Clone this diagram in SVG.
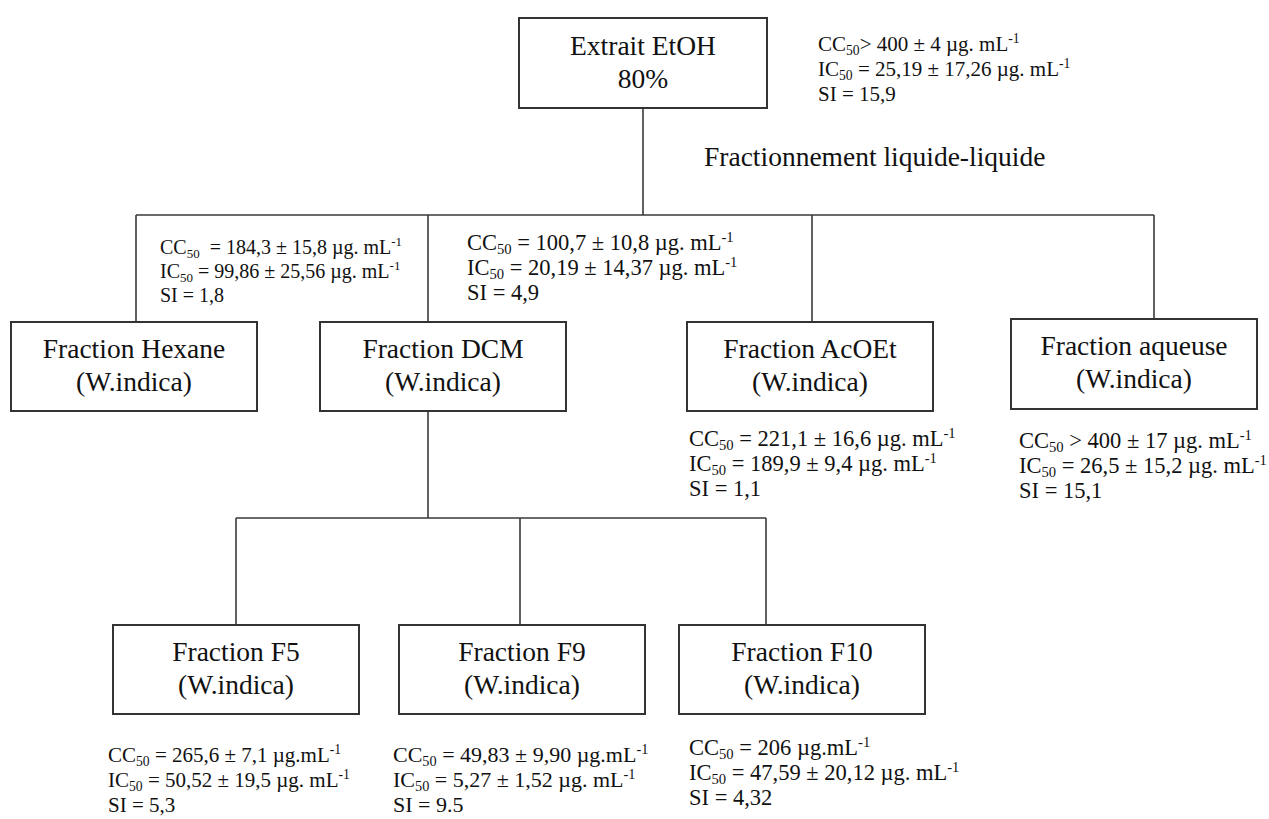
<svg xmlns="http://www.w3.org/2000/svg" width="1269" height="819" viewBox="0 0 1269 819">
<style>
text{font-family:"Liberation Serif","Times New Roman",serif;fill:#111;white-space:pre}
.t{font-size:27.5px;text-anchor:middle}
.l{font-size:22.5px}
.a{font-size:20px}
.b{font-size:21px}
.d{font-size:22px}
.s{font-size:0.65em}
.box{fill:#fff;stroke:#333;stroke-width:2}
.c{fill:none;stroke:#3a3a3a;stroke-width:1.6}
</style>
<rect width="1269" height="819" fill="#fff"/>
<g id="connectors" class="c">
<path d="M643 108V215M136 215H1154M136 215V322M428 215V322M812 215V322M1154 215V319"/>
<path d="M428 411V518M236 518H766M236 518V625M520 518V625M766 518V625"/>
</g>
<text x="704" y="166" style="font-size:27.5px">Fractionnement liquide-liquide</text>
<g id="extrait">
<rect class="box" x="519" y="18" width="248" height="90"/>
<text class="t" x="643" y="55">Extrait EtOH</text>
<text class="t" x="643" y="88">80%</text>
<text class="b" x="818" y="51">CC<tspan class="s" dy="4">50</tspan><tspan dy="-4">&gt; 400 ± 4 µg. mL</tspan><tspan class="s" dy="-8">-1</tspan></text>
<text class="b" x="818" y="76">IC<tspan class="s" dy="4">50</tspan><tspan dy="-4"> = 25,19 ± 17,26 µg. mL</tspan><tspan class="s" dy="-8">-1</tspan></text>
<text class="b" x="818" y="101">SI = 15,9</text>
</g>
<g id="hexane">
<rect class="box" x="11" y="322" width="246" height="89"/>
<text class="t" x="134" y="358">Fraction Hexane</text>
<text class="t" x="134" y="391">(W.indica)</text>
<text class="a" x="160" y="254">CC<tspan class="s" dy="4">50</tspan><tspan dy="-4">  = 184,3 ± 15,8 µg. mL</tspan><tspan class="s" dy="-8">-1</tspan></text>
<text class="a" x="160" y="278">IC<tspan class="s" dy="4">50</tspan><tspan dy="-4"> = 99,86 ± 25,56 µg. mL</tspan><tspan class="s" dy="-8">-1</tspan></text>
<text class="a" x="160" y="302">SI = 1,8</text>
</g>
<g id="dcm">
<rect class="box" x="320" y="322" width="246" height="89"/>
<text class="t" x="443" y="358">Fraction DCM</text>
<text class="t" x="443" y="391">(W.indica)</text>
<text class="l" x="467" y="250">CC<tspan class="s" dy="4">50</tspan><tspan dy="-4"> = 100,7 ± 10,8 µg. mL</tspan><tspan class="s" dy="-8">-1</tspan></text>
<text class="l" x="467" y="275">IC<tspan class="s" dy="4">50</tspan><tspan dy="-4"> = 20,19 ± 14,37 µg. mL</tspan><tspan class="s" dy="-8">-1</tspan></text>
<text class="l" x="467" y="300">SI = 4,9</text>
</g>
<g id="acoet">
<rect class="box" x="687" y="322" width="246" height="89"/>
<text class="t" x="810" y="358">Fraction AcOEt</text>
<text class="t" x="810" y="391">(W.indica)</text>
<text class="l" x="689" y="446">CC<tspan class="s" dy="4">50</tspan><tspan dy="-4"> = 221,1 ± 16,6 µg. mL</tspan><tspan class="s" dy="-8">-1</tspan></text>
<text class="l" x="689" y="471">IC<tspan class="s" dy="4">50</tspan><tspan dy="-4"> = 189,9 ± 9,4 µg. mL</tspan><tspan class="s" dy="-8">-1</tspan></text>
<text class="l" x="689" y="496">SI = 1,1</text>
</g>
<g id="aqueuse">
<rect class="box" x="1011" y="319" width="246" height="90"/>
<text class="t" x="1134" y="355">Fraction aqueuse</text>
<text class="t" x="1134" y="388">(W.indica)</text>
<text class="l" x="1019" y="448">CC<tspan class="s" dy="4">50</tspan><tspan dy="-4"> &gt; 400 ± 17 µg. mL</tspan><tspan class="s" dy="-8">-1</tspan></text>
<text class="l" x="1019" y="473">IC<tspan class="s" dy="4">50</tspan><tspan dy="-4"> = 26,5 ± 15,2 µg. mL</tspan><tspan class="s" dy="-8">-1</tspan></text>
<text class="l" x="1019" y="498">SI = 15,1</text>
</g>
<g id="f5">
<rect class="box" x="113" y="625" width="246" height="89"/>
<text class="t" x="236" y="661">Fraction F5</text>
<text class="t" x="236" y="694">(W.indica)</text>
<text class="b" x="108" y="762">CC<tspan class="s" dy="4">50</tspan><tspan dy="-4"> = 265,6 ± 7,1 µg.mL</tspan><tspan class="s" dy="-8">-1</tspan></text>
<text class="b" x="108" y="787">IC<tspan class="s" dy="4">50</tspan><tspan dy="-4"> = 50,52 ± 19,5 µg. mL</tspan><tspan class="s" dy="-8">-1</tspan></text>
<text class="b" x="108" y="812">SI = 5,3</text>
</g>
<g id="f9">
<rect class="box" x="399" y="625" width="246" height="89"/>
<text class="t" x="522" y="661">Fraction F9</text>
<text class="t" x="522" y="694">(W.indica)</text>
<text class="d" x="393" y="762">CC<tspan class="s" dy="4">50</tspan><tspan dy="-4"> = 49,83 ± 9,90 µg.mL</tspan><tspan class="s" dy="-8">-1</tspan></text>
<text class="d" x="393" y="787">IC<tspan class="s" dy="4">50</tspan><tspan dy="-4"> = 5,27 ± 1,52 µg. mL</tspan><tspan class="s" dy="-8">-1</tspan></text>
<text class="d" x="393" y="812">SI = 9.5</text>
</g>
<g id="f10">
<rect class="box" x="679" y="625" width="246" height="89"/>
<text class="t" x="802" y="661">Fraction F10</text>
<text class="t" x="802" y="694">(W.indica)</text>
<text class="l" x="689" y="755">CC<tspan class="s" dy="4">50</tspan><tspan dy="-4"> = 206 µg.mL</tspan><tspan class="s" dy="-8">-1</tspan></text>
<text class="l" x="689" y="780">IC<tspan class="s" dy="4">50</tspan><tspan dy="-4"> = 47,59 ± 20,12 µg. mL</tspan><tspan class="s" dy="-8">-1</tspan></text>
<text class="l" x="689" y="805">SI = 4,32</text>
</g>
</svg>
